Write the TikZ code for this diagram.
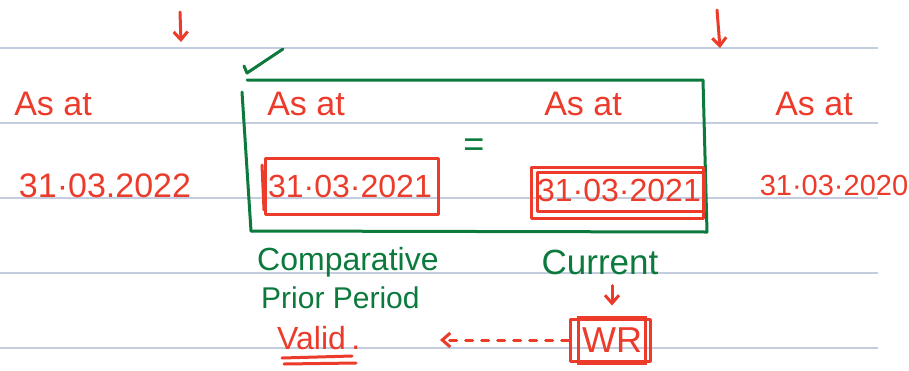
\documentclass[tikz,border=0pt]{standalone}
\usepackage{fontspec}
\setmainfont{Liberation Sans}
\usetikzlibrary{arrows.meta}
\definecolor{inkred}{HTML}{EC3B2A}
\definecolor{inkgreen}{HTML}{0B7A3C}
\definecolor{ruleblue}{HTML}{C3CDDF}
\newcommand{\fsz}[1]{\fontsize{#1}{#1}\selectfont}
\tikzset{
  redtxt/.style={text=inkred, inner sep=1pt, font=\fsz{34}},
  greentxt/.style={text=inkgreen, inner sep=1pt, font=\fsz{32}},
  redpen/.style={draw=inkred, line width=3pt, line cap=round, line join=round},
  greenpen/.style={draw=inkgreen, line width=3pt, line cap=round, line join=round},
  ruled/.style={draw=ruleblue, line width=1.3pt},
  penarrow/.style={-{Straight Barb[length=8pt,width=14pt]}},
}
\begin{document}
\begin{tikzpicture}[x=1pt,y=-1pt]
\useasboundingbox (0,0) rectangle (909,370);
\fill[white] (0,0) rectangle (909,370);
% ruled lines
\foreach \yy in {48,123,198,273,348} \draw[ruled] (0,\yy) -- (878,\yy);

% top arrows
\coordinate (a1s) at (180,12); \coordinate (a1e) at (181,42);
\coordinate (a2s) at (717,10); \coordinate (a2e) at (720,48);
\draw[redpen,penarrow] (a1s) -- (a1e);
\draw[redpen,penarrow] (a2s) -- (a2e);

% green check
\coordinate (ck0) at (244,66); \coordinate (ck1) at (247,73); \coordinate (ck2) at (283,49);
\draw[greenpen] (ck0) -- (ck1) -- (ck2);

% green frame
\coordinate (g1) at (247,80); \coordinate (g2) at (703,80);
\coordinate (g3) at (707,232); \coordinate (g4) at (251,231);
\coordinate (g5) at (242,92);
\draw[greenpen] (g1) -- (g2) -- (g3) -- (g4);
\draw[greenpen] (g5) -- (g4);

% texts row 1
\node[redtxt] (as1) at (53,104) {As at};
\node[redtxt] (as2) at (306,104) {As at};
\node[redtxt] (as3) at (583,104) {As at};
\node[redtxt] (as4) at (814,104) {As at};

% equals
\node[greentxt, font=\fsz{36}] (eq) at (474,148) {=};

% dates
\node[redtxt] (d1) at (105,186) {31·03.2022};
\node[redtxt, font=\fsz{32}] (d2) at (350,186) {31·03·2021};
\node[redtxt, font=\fsz{32}] (d3) at (619,190) {31·03·2021};
\node[redtxt, font=\fsz{29}] (d4) at (834,186) {31·03·2020};

% red boxes
\draw[redpen] (265,158) rectangle (438,214);
\draw[redpen] (262,165) -- (264,210);
\draw[redpen] (531,167) rectangle (703,218);
\draw[redpen] (537,172) rectangle (704,211);

% lower texts
\node[greentxt, anchor=west] (comp) at (256,262) {Comparative};
\node[greentxt, anchor=west, font=\fsz{30}] (prior) at (260,298) {Prior Period};
\node[greentxt, font=\fsz{35}] (cur) at (600,262) {Current};
\node[redtxt, anchor=west, font=\fsz{32}] (valid) at (276,338) {Valid\,.};
\draw[redpen] (282,358) -- (352,356);
\draw[redpen] (284,364) -- (356,363);

% WR
\node[redtxt, draw=inkred, line width=3pt, inner sep=4pt, minimum width=58pt, minimum height=46pt, font=\fsz{36}] (wr) at (612,340) {WR};
\draw[redpen] ([xshift=-6pt,yshift=-4pt]wr.north west) rectangle ([xshift=3pt,yshift=3pt]wr.south east);

% arrows
\draw[redpen,penarrow, shorten <=10pt, shorten >=10pt] (cur.south -| wr.north) -- (wr.north);
\coordinate (vend) at (440,340);
\draw[redpen, dash pattern=on 7pt off 9pt, -{Straight Barb[length=8pt,width=14pt]}] ([xshift=-8pt]wr.west) -- (vend);
\end{tikzpicture}
\end{document}
